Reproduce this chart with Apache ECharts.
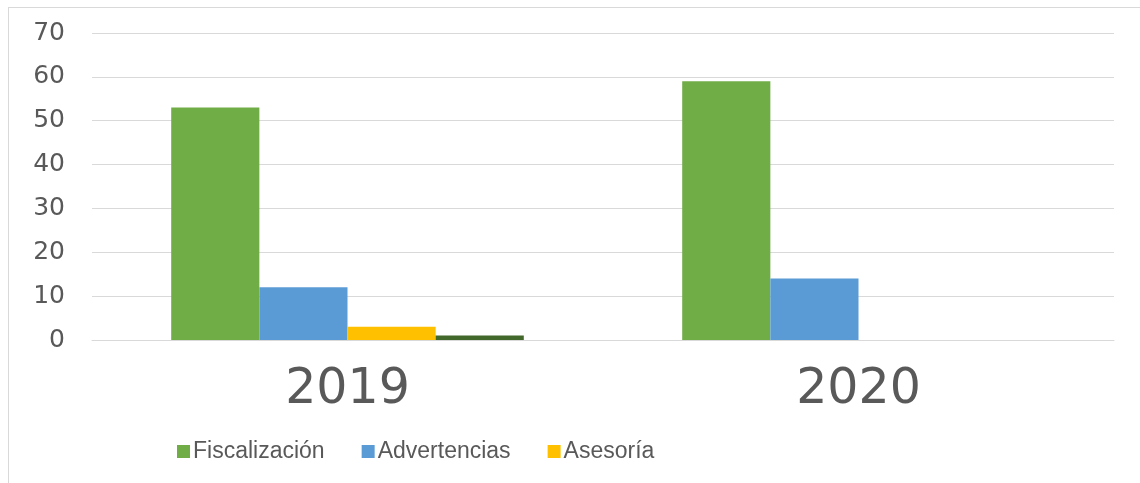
<!DOCTYPE html>
<html>
<head>
<meta charset="utf-8">
<script src="https://cdn.jsdelivr.net/npm/echarts@6/dist/echarts.min.js"></script>
<style>
html, body { margin: 0; padding: 0; background: #fff; overflow: hidden; }
#frame { position: absolute; left: 8px; top: 7px; width: 1300px; height: 600px; border: 1px solid #d9d9d9; }
#chart { position: absolute; left: 0; top: 0; width: 1140px; height: 483px; }
</style>
</head>
<body>
<div id="frame"></div>
<div id="chart"></div>
<script>
// data
var years = ['2019', '2020'];
var fiscalizacion = [53, 59];
var advertencias = [12, 14];
var asesoria = [3, 0];
var otros = [1, 0];

var colors = ['#70AD47', '#5B9BD5', '#FFC000', '#43682B'];

var myChart = echarts.init(document.getElementById('chart'));

var option = {
	animation: false,
	textStyle: { fontFamily: 'Liberation Sans, Arial, sans-serif' },
	grid: { left: 92, right: 26, top: 33, bottom: 143, containLabel: false },
	legend: {
		data: ['Fiscalización', 'Advertencias', 'Asesoría'],
		left: 172,
		top: 435,
		itemWidth: 13,
		itemHeight: 13,
		itemGap: 37,
		icon: 'rect',
		textStyle: { fontSize: 23, color: '#595959', padding: [0, 0, 0, -2] }
	},
	xAxis: {
		type: 'category',
		data: years,
		axisLine: { lineStyle: { color: '#d9d9d9', width: 1 } },
		axisTick: { show: false },
		axisLabel: { fontSize: 49, color: '#595959', margin: 26, fontFamily: 'DejaVu Sans' }
	},
	yAxis: {
		type: 'value',
		min: 0,
		max: 70,
		interval: 10,
		axisLine: { show: false },
		axisTick: { show: false },
		splitLine: { lineStyle: { color: '#d9d9d9', width: 1 } },
		axisLabel: { fontSize: 25, color: '#595959', margin: 27, fontFamily: 'DejaVu Sans' }
	},
	series: [
		{ name: 'Fiscalización', type: 'bar', data: fiscalizacion, itemStyle: { color: colors[0] }, barGap: '0%', barCategoryGap: '31%' },
		{ name: 'Advertencias', type: 'bar', data: advertencias, itemStyle: { color: colors[1] } },
		{ name: 'Asesoría', type: 'bar', data: asesoria, itemStyle: { color: colors[2] } },
		{ name: 'Otros', type: 'bar', data: otros, itemStyle: { color: colors[3] } }
	]
};

myChart.setOption(option);
</script>
</body>
</html>
